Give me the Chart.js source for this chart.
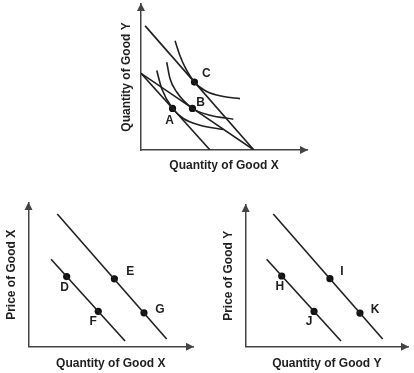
<!DOCTYPE html>
<html>
<head>
<meta charset="utf-8">
<script src="https://cdn.jsdelivr.net/npm/chart.js@4.4.1/dist/chart.umd.min.js"></script>
<style>
  body { margin: 0; background: #fff; }
  #wrap { position: relative; width: 414px; height: 373px; overflow: hidden; background: #fff; }
  canvas { position: absolute; }
</style>
</head>
<body>
<div id="wrap">
  <canvas id="choiceChart" width="220" height="180" style="left:100px;top:0px"></canvas>
  <canvas id="priceXChart" width="207" height="183" style="left:0px;top:190px"></canvas>
  <canvas id="priceYChart" width="207" height="183" style="left:207px;top:190px"></canvas>
</div>
<script>
// top panel: budget lines, indifference curves and chosen bundles (x = good X, y = good Y)
const budgetA = [[0, 5.25], [4.16, 0]]
const budgetB = [[0, 5.25], [6.8, 0]]
const budgetC = [[0.25, 8.5], [6.8, 0]]
const curveA = [[0.95, 5.44], [1.25, 4.2], [1.9, 2.85], [2.55, 2.16], [3.55, 1.7], [4.94, 1.41]]
const curveB = [[1.55, 6.01], [1.75, 4.88], [2.15, 3.97], [3.1, 2.85], [4.16, 2.38], [5.56, 2.11]]
const curveC = [[2.05, 7.48], [2.35, 6.46], [2.65, 5.67], [3.22, 4.65], [3.96, 4.01], [4.96, 3.67], [5.96, 3.52]]
const bundleLabels = ['A', 'B', 'C']
const bundleX = [1.9, 3.1, 3.22]
const bundleY = [2.85, 2.85, 4.65]

// bottom left: demand for good X
const demandXLow = [[1.37, 6.08], [5.87, 0.4]]
const demandXHigh = [[1.75, 9.23], [8.4, 0.54]]
const goodXLabels = ['D', 'E', 'F', 'G']
const goodXQty = [2.32, 5.22, 4.24, 7.02]
const goodXPrice = [4.88, 4.72, 2.46, 2.36]

// bottom right: demand for good Y
const demandYLow = [[1.29, 6.17], [5.87, 0.4]]
const demandYHigh = [[1.7, 9.36], [8.44, 0.54]]
const goodYLabels = ['H', 'I', 'J', 'K']
const goodYQty = [2.22, 5.19, 4.21, 7.04]
const goodYPrice = [4.99, 4.8, 2.49, 2.37]

const INK = '#1f1f1f'
const AXIS = '#444'
const FONT = '"Liberation Sans", Arial, sans-serif'

// where each letter sits relative to its dot
const labelOffsets = {
  A: [-3, 12], B: [8, -6], C: [12, -8],
  D: [-2, 11], E: [16, -7], F: [-5, 10], G: [16, -3],
  H: [-2, 11], I: [12, -7], J: [-5, 10], K: [15, -3]
}

const toXY = pts => pts.map(p => ({ x: p[0], y: p[1] }))
const zipXY = (xs, ys) => xs.map((x, i) => ({ x: x, y: ys[i] }))

function lineSet(pts, curved) {
  return {
    data: toXY(pts),
    showLine: true,
    borderColor: INK,
    borderWidth: 1.6,
    pointRadius: 0,
    cubicInterpolationMode: curved ? 'monotone' : 'default',
    fill: false
  }
}

function dotSet(xs, ys, labels) {
  return {
    data: zipXY(xs, ys),
    pointLabels: labels,
    showLine: false,
    pointRadius: 3.6,
    pointBackgroundColor: '#111',
    pointBorderColor: '#111',
    pointBorderWidth: 0
  }
}

const arrowsAndLabels = {
  id: 'arrowsAndLabels',
  afterDraw(chart) {
    const { ctx, chartArea: a } = chart
    ctx.save()
    ctx.fillStyle = AXIS
    ctx.beginPath()
    ctx.moveTo(a.left, a.top - 1)
    ctx.lineTo(a.left - 4, a.top + 7)
    ctx.lineTo(a.left + 4, a.top + 7)
    ctx.closePath()
    ctx.fill()
    ctx.beginPath()
    ctx.moveTo(a.right + 1, a.bottom)
    ctx.lineTo(a.right - 7, a.bottom - 4)
    ctx.lineTo(a.right - 7, a.bottom + 4)
    ctx.closePath()
    ctx.fill()

    ctx.fillStyle = INK
    ctx.font = 'bold 12px ' + FONT
    ctx.textAlign = 'center'
    ctx.textBaseline = 'middle'
    chart.data.datasets.forEach((ds, i) => {
      if (!ds.pointLabels) return
      chart.getDatasetMeta(i).data.forEach((pt, j) => {
        const name = ds.pointLabels[j]
        const off = labelOffsets[name] || [0, 0]
        ctx.fillText(name, pt.x + off[0], pt.y + off[1])
      })
    })
    ctx.restore()
  }
}

function axis(title, pad) {
  return {
    type: 'linear',
    min: 0,
    max: 10,
    ticks: { display: false },
    grid: { display: false, drawTicks: false },
    border: { display: true, color: AXIS, width: 1.5 },
    title: {
      display: true,
      text: title,
      color: INK,
      font: { family: FONT, size: 12, weight: 'bold' },
      padding: pad
    }
  }
}

function makeChart(id, datasets, xTitle, yTitle, padding, yPad, xPad) {
  return new Chart(document.getElementById(id), {
    type: 'scatter',
    data: { datasets: datasets },
    options: {
      responsive: false,
      animation: false,
      layout: { padding: padding },
      scales: {
        x: axis(xTitle, xPad),
        y: axis(yTitle, yPad)
      },
      plugins: { legend: { display: false }, tooltip: { enabled: false } }
    },
    plugins: [arrowsAndLabels]
  })
}

makeChart('choiceChart', [
  lineSet(budgetA), lineSet(budgetB), lineSet(budgetC),
  lineSet(curveA, true), lineSet(curveB, true), lineSet(curveC, true),
  dotSet(bundleX, bundleY, bundleLabels)
], 'Quantity of Good X', 'Quantity of Good Y',
  { left: 19.6, top: 3, right: 13, bottom: 7.6 },
  { top: 0, bottom: 7 }, { top: 8, bottom: 0 })

makeChart('priceXChart', [
  lineSet(demandXLow), lineSet(demandXHigh),
  dotSet(goodXQty, goodXPrice, goodXLabels)
], 'Quantity of Good X', 'Price of Good X',
  { left: 4.1, top: 13, right: 14, bottom: 1.9 },
  { top: 0, bottom: 10 }, { top: 10, bottom: 0 })

makeChart('priceYChart', [
  lineSet(demandYLow), lineSet(demandYHigh),
  dotSet(goodYQty, goodYPrice, goodYLabels)
], 'Quantity of Good Y', 'Price of Good Y',
  { left: 14.3, top: 15, right: 6, bottom: 1.9 },
  { top: 0, bottom: 10 }, { top: 10, bottom: 0 })
</script>
</body>
</html>
